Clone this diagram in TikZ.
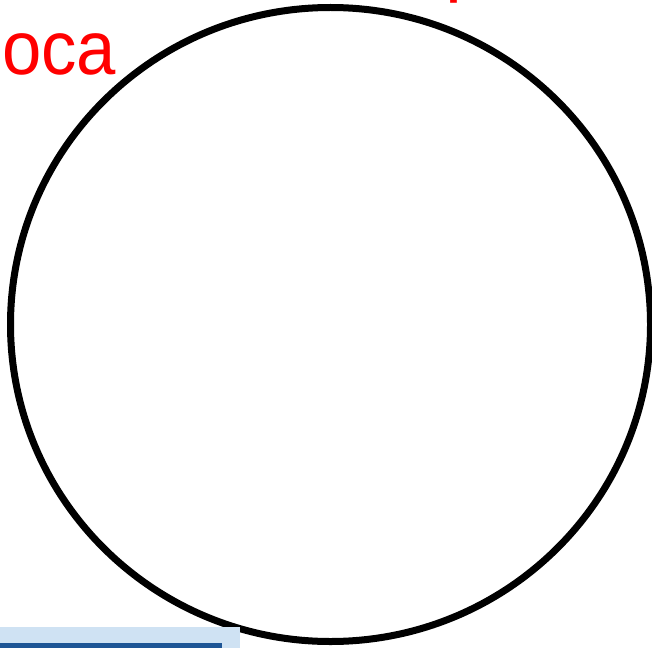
\documentclass[tikz,border=0pt]{standalone}
\usepackage{fontspec}
\setmainfont{Liberation Sans}
\usetikzlibrary{positioning, shapes.geometric}
\definecolor{panellight}{HTML}{CFE2F3}
\definecolor{paneldark}{HTML}{1D5595}

\begin{document}
\begin{tikzpicture}[x=1pt, y=-1pt,
  ring/.style={draw=black, line width=7pt, ellipse, inner sep=0pt,
               minimum width=640pt, minimum height=634pt},
  redtxt/.style={text=red, font=\fontsize{76}{80}\selectfont, inner sep=0pt},
  panel/.style={anchor=north west, inner sep=0pt, draw=none}
]
\useasboundingbox (0,0) rectangle (652,647);
\begin{scope}
\clip (0,0) rectangle (652,647);
\node[ring] (globe) at (330.5,324.5) {};
\node[redtxt, anchor=base west, xscale=0.93] (head) at (2,75) {oca};
\node[redtxt, anchor=base west] (headtop) at (445,-12) {p,};
% blue panel, bottom left
\node[panel, fill=panellight, minimum width=240pt, minimum height=30pt] (panel) at (0,627) {};
\node[panel, fill=paneldark, minimum width=222pt, minimum height=20pt] (panelin) at (0,643) {};
\end{scope}
\end{tikzpicture}
\end{document}
